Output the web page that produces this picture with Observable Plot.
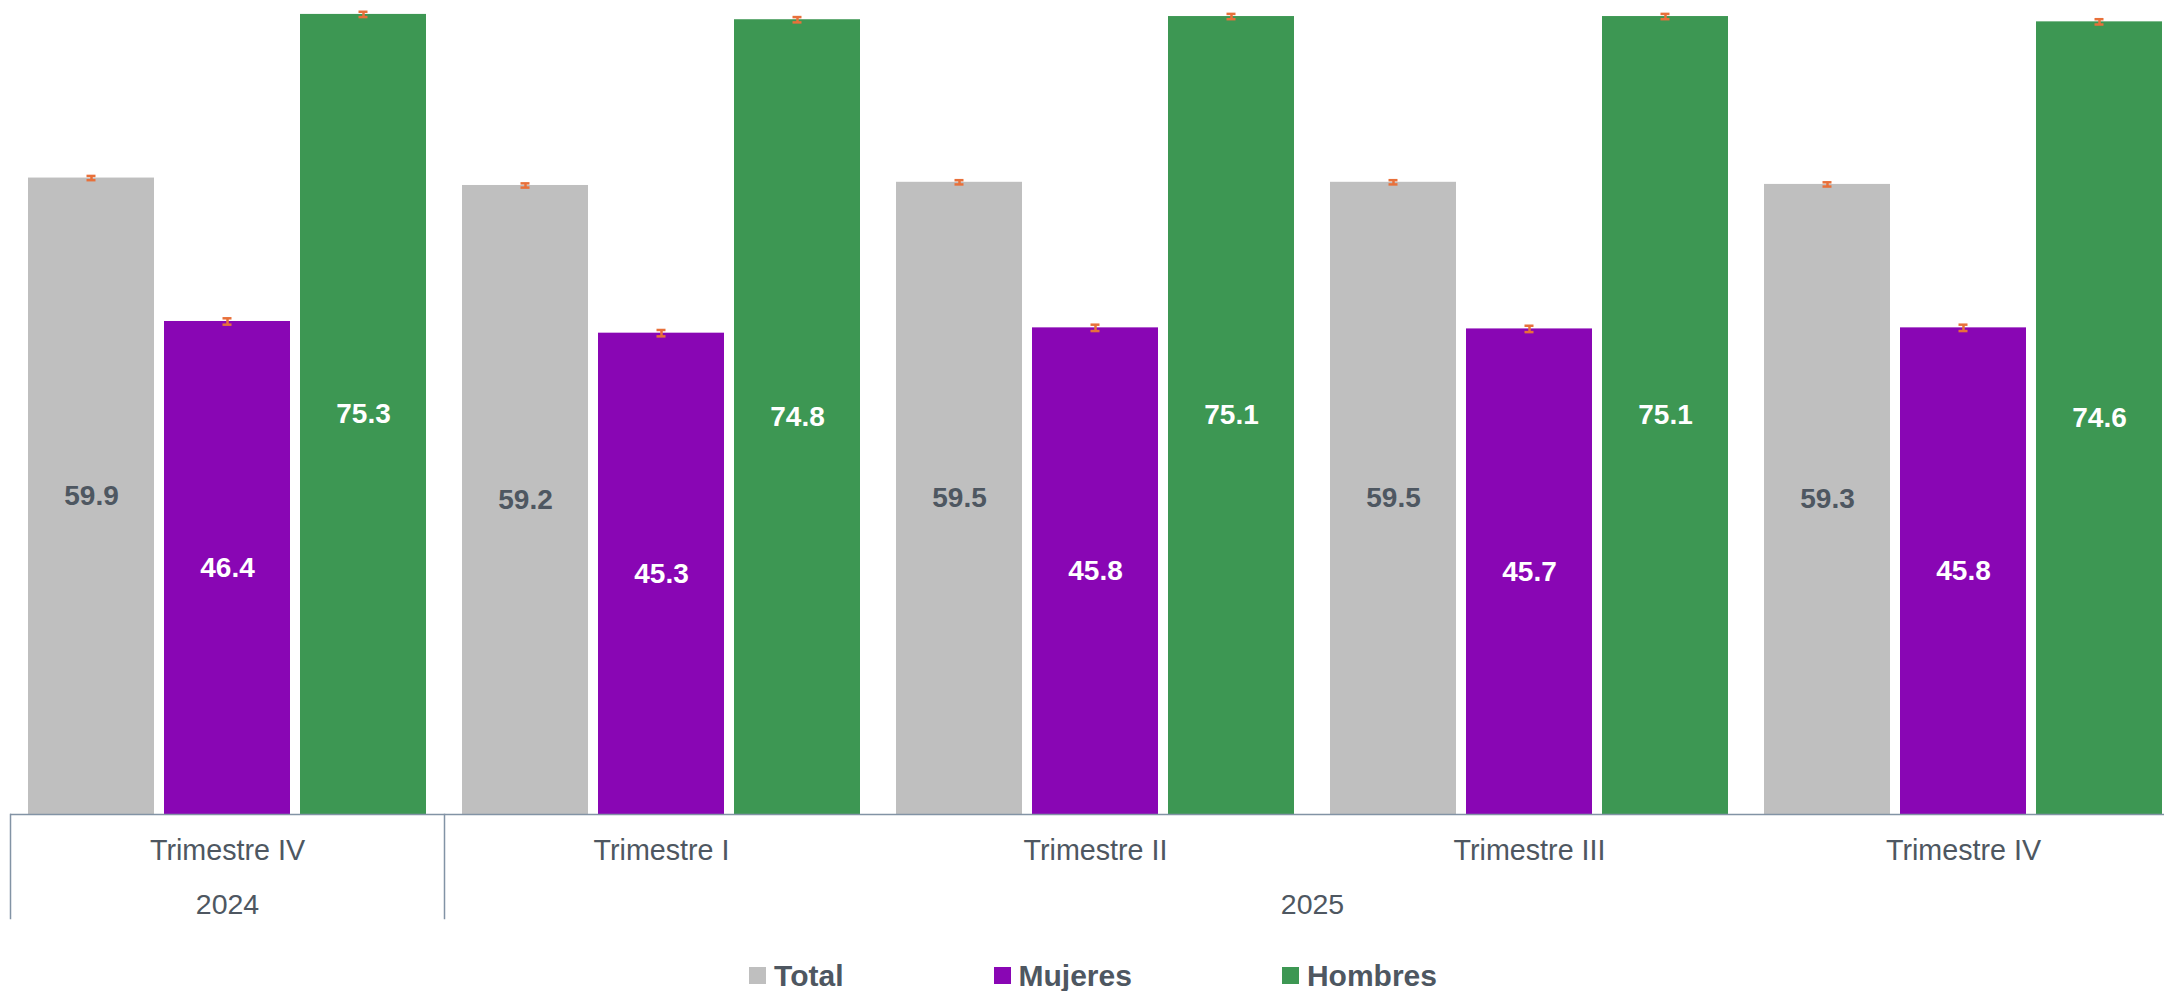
<!DOCTYPE html>
<html><head><meta charset="utf-8">
<script src="https://cdn.jsdelivr.net/npm/d3@7"></script>
<script src="https://cdn.jsdelivr.net/npm/@observablehq/plot@0.6"></script>
<style>
html,body{margin:0;padding:0;background:#fff;overflow:hidden;}
#wrap{width:2164px;height:991px;overflow:hidden;position:relative;font-family:"Liberation Sans",Arial,sans-serif;}
#chart{height:940px;overflow:visible;}
#chart svg{max-width:none !important;}
#legend{display:flex;justify-content:center;align-items:center;padding-top:20px;height:31px;padding-left:22px;font-weight:bold;font-size:30px;color:#4E5761;}
.item{display:flex;align-items:center;margin:0 75px;}
.sw{width:17px;height:17px;margin-right:8px;}
</style></head><body>
<div id="wrap"><div id="chart"></div><div id="legend"></div></div>
<script>
// ---- data ----
const periods = ["2024-IV", "2025-I", "2025-II", "2025-III", "2025-IV"];
const trimesters = ["Trimestre IV", "Trimestre I", "Trimestre II", "Trimestre III", "Trimestre IV"];
const yearLabels = [{period: "2024-IV", year: "2024"}, {period: "2025-II", year: "2025"}];
const series = ["Total", "Mujeres", "Hombres"];
const totalValues = [59.9, 59.2, 59.5, 59.5, 59.3];
const mujeresValues = [46.4, 45.3, 45.8, 45.7, 45.8];
const hombresValues = [75.3, 74.8, 75.1, 75.1, 74.6];
const totalErr = [0.2, 0.2, 0.2, 0.2, 0.2];
const mujeresErr = [0.3, 0.3, 0.3, 0.3, 0.3];
const hombresErr = [0.25, 0.25, 0.25, 0.25, 0.25];
const dividers = ["2024-IV", "2025-I"];

// ---- styles ----
const colors = ["#BFBFBF", "#8906B4", "#3D9753"];
const textColor = "#4E5761";
const axisColor = "#8293A5";
const errColor = "#E8703A";
const plotH = 814;

const values = [totalValues, mujeresValues, hombresValues];
const errs = [totalErr, mujeresErr, hombresErr];
const data = [];
periods.forEach((p, i) => series.forEach((s, j) => data.push({period: p, series: s, value: values[j][i], err: errs[j][i]})));

const chart = Plot.plot({
  width: 2181, height: 940,
  marginLeft: 8, marginRight: 0, marginTop: 0, marginBottom: 940 - plotH,
  fx: {domain: periods, padding: 0},
  x: {domain: series, paddingInner: 0.0769, paddingOuter: 0.1304, axis: null},
  y: {domain: [0, 76.61], axis: null},
  color: {domain: series, range: colors},
  style: {fontFamily: "'Liberation Sans', Arial, sans-serif", color: textColor, maxWidth: "none", background: "transparent"},
  marks: [
    Plot.barY(data, {fx: "period", x: "series", y: "value", fill: "series"}),
    Plot.ruleY([0], {stroke: axisColor, strokeWidth: 1.5}),
    ...dividers.map(p => Plot.frame({fx: () => p, anchor: "left", stroke: axisColor, strokeWidth: 1.5, insetTop: plotH, insetBottom: -104})),
    Plot.axisFx({anchor: "bottom", tickSize: 0, tickPadding: 25, fontSize: 28.7, label: null, fill: textColor,
      tickFormat: p => trimesters[periods.indexOf(p)]}),
    Plot.text(yearLabels.slice(0, 1), {fx: "period", text: "year", frameAnchor: "bottom", textAnchor: "middle", dy: 99, fontSize: 28.5, fill: textColor}),
    Plot.text(yearLabels.slice(1), {fx: "period", text: "year", frameAnchor: "bottom-right", textAnchor: "middle", dy: 99, fontSize: 28.5, fill: textColor}),
    Plot.ruleX(data, {fx: "period", x: "series", y1: d => d.value - d.err, y2: d => d.value + d.err, stroke: errColor, strokeWidth: 2.5}),
    Plot.tickY(data, {fx: "period", x: "series", y: d => d.value - d.err, stroke: errColor, strokeWidth: 2.5, insetLeft: 58.5, insetRight: 58.5}),
    Plot.tickY(data, {fx: "period", x: "series", y: d => d.value + d.err, stroke: errColor, strokeWidth: 2.5, insetLeft: 58.5, insetRight: 58.5}),
    Plot.text(data.filter(d => d.series === "Total"), {fx: "period", x: "series", y: d => d.value / 2, text: d => d.value.toFixed(1), fill: textColor, fontSize: 28, fontWeight: "bold"}),
    Plot.text(data.filter(d => d.series !== "Total"), {fx: "period", x: "series", y: d => d.value / 2, text: d => d.value.toFixed(1), fill: "white", fontSize: 28, fontWeight: "bold"})
  ]
});
document.getElementById("chart").appendChild(chart);

const legend = document.getElementById("legend");
series.forEach((s, j) => {
  const item = document.createElement("div");
  item.className = "item";
  const sw = document.createElement("div");
  sw.className = "sw";
  sw.style.background = colors[j];
  const t = document.createElement("span");
  t.textContent = s;
  item.appendChild(sw); item.appendChild(t);
  legend.appendChild(item);
});
</script>
</body></html>
